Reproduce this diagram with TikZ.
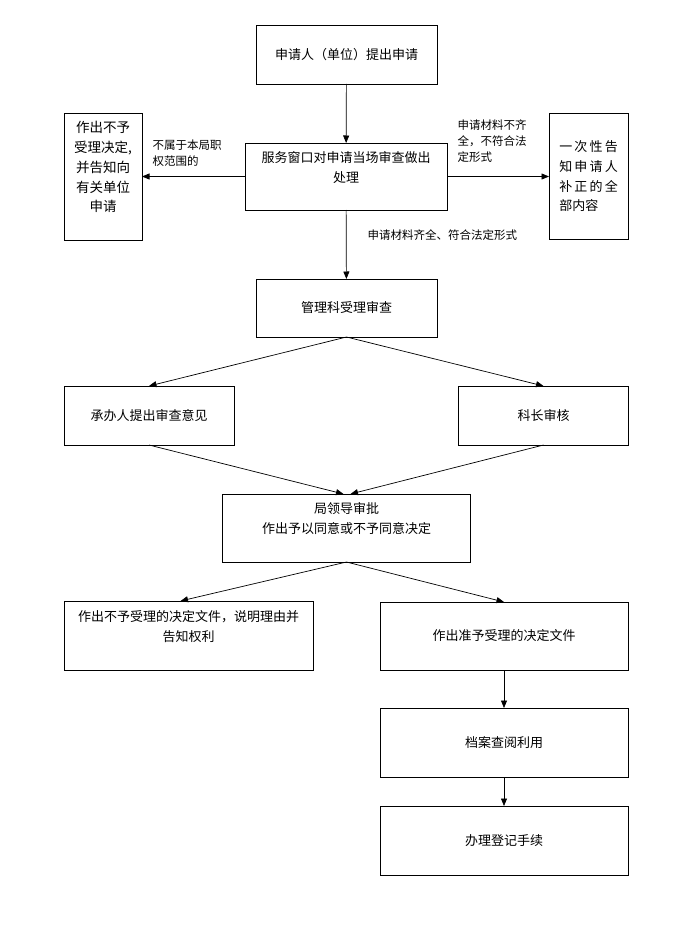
\documentclass[tikz,border=0pt]{standalone}
\usepackage{fontspec}
\setmainfont{Noto Sans CJK SC}
\usetikzlibrary{arrows.meta,
positioning}

\begin{document}
\begin{tikzpicture}[
				x=1pt, y=-1pt,
				box/.style={draw, line width=0.7pt, inner sep=0pt, outer sep=0pt, align=center,
					font=\fontsize{13}{20}\selectfont},
				sidebox/.style={box, font=\fontsize{13.5}{19.7}\selectfont},
				lbl/.style={inner sep=0pt, align=left, font=\fontsize{11.5}{16}\selectfont},
				flow/.style={-{Triangle[length=7.5pt,width=6pt]}, line width=0.7pt}
			]
				\useasboundingbox (0,0) rectangle (700,928);
				\node [box, minimum width=181pt, minimum height=59pt] (apply) at (346.5,54.5) {申请人（单位）提出申请};
				\node [box, minimum width=202pt, minimum height=67pt, below=59pt of apply, xshift=-0.5pt] (window) {服务窗口对申请当场审查做出\\处理\\\mbox{}};
				\node [sidebox, minimum width=78pt, minimum height=127pt, left=103pt of window] (reject) {作出不予\\受理决定,\\并告知向\\有关单位\\申请\\\mbox{}};
				\node [sidebox, align=left, font=\fontsize{13}{19.7}\selectfont, minimum width=79pt, minimum height=126pt, right=102pt of window] (supplement) {一\,次\,性\,告\\知\,申\,请\,人\\补\,正\,的\,全\\部内容};
				\node [box, minimum width=181pt, minimum height=58pt, below=69pt of window, xshift=0.5pt] (accept) {管理科受理审查};
				\node [box, minimum width=170pt, minimum height=59pt, below=49pt of accept, xshift=-197.5pt] (handler) {承办人提出审查意见};
				\node [box, minimum width=170pt, minimum height=59pt, below=49pt of accept, xshift=197pt] (chief) {科长审核};
				\node [box, minimum width=248pt, minimum height=68pt, below=49pt of handler, xshift=197.5pt] (leader) {局领导审批\\作出予以同意或不予同意决定\\\mbox{}};
				\node [box, minimum width=249pt, minimum height=69pt, below=39pt of leader, xshift=-158pt] (deny) {作出不予受理的决定文件，说明理由并\\告知权利\\\mbox{}};
				\node [box, minimum width=248pt, minimum height=68pt, below=40pt of leader, xshift=157.5pt] (grant) {作出准予受理的决定文件};
				\node [box, minimum width=248pt, minimum height=69pt, below=38pt of grant] (archive) {档案查阅利用};
				\node [box, minimum width=248pt, minimum height=69pt, below=29pt of archive] (register) {办理登记手续};
				\path [flow]
					(apply) edge (window)
					(window.west) edge node [lbl, pos=0.9, anchor=south west, yshift=10pt] {不属于本局职\\权范围的} (reject.east)
					(window.east) edge node [lbl, pos=0.1, anchor=south west, yshift=14pt] {申请材料不齐\\全，不符合法\\定形式} (supplement.west)
					(window) edge node [lbl, pos=0.36, anchor=west, xshift=21pt] {申请材料齐全、符合法定形式} (accept)
					(accept.south) edge (handler.north)
					(accept.south) edge (chief.north)
					(handler.south) edge ([xshift=-3pt]leader.north)
					(chief.south) edge ([xshift=4pt]leader.north)
					(leader.south) edge ([xshift=-8pt]deny.north)
					(leader.south) edge (grant.north)
					(grant) edge (archive)
					(archive) edge (register);
			\end{tikzpicture}
\end{document}
